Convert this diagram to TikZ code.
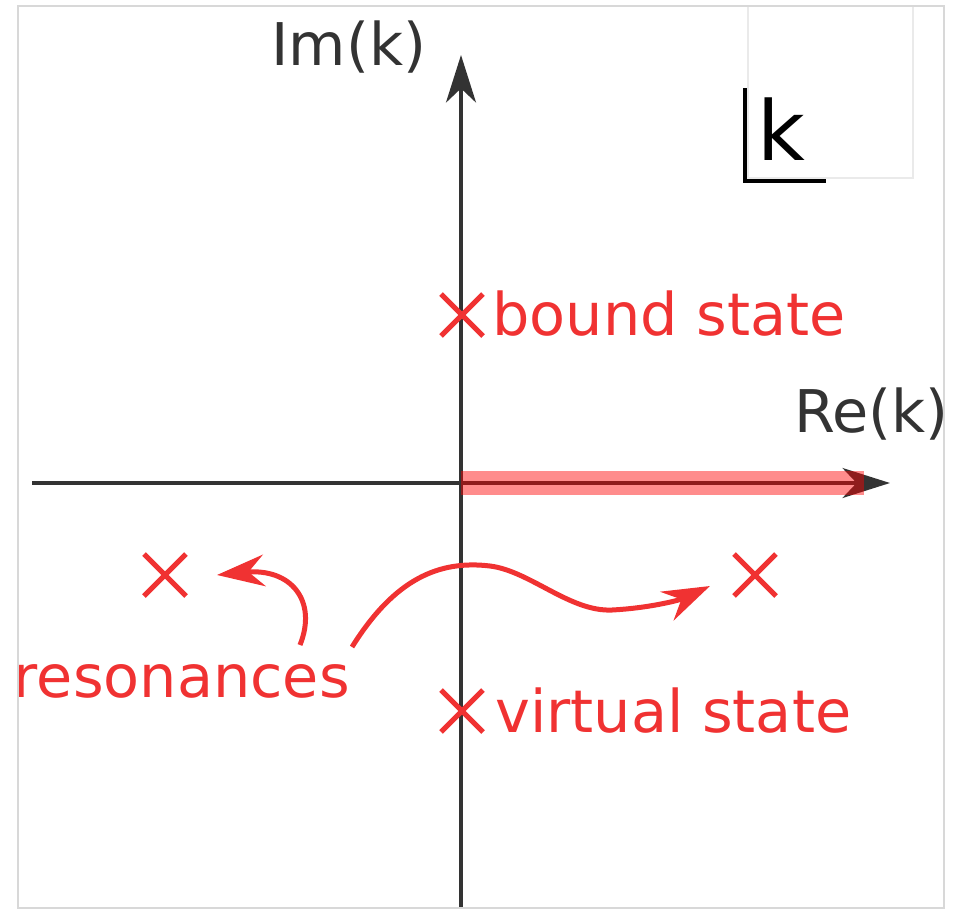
\documentclass[tikz,border=0pt]{standalone}
\usepackage{fontspec}
\setmainfont{DejaVu Sans}
\usetikzlibrary{arrows.meta,shapes.misc}
\definecolor{polered}{RGB}{240,50,50}
\definecolor{axisgrey}{RGB}{51,51,51}
\definecolor{framegrey}{RGB}{216,216,216}
\definecolor{boxgrey}{RGB}{234,234,234}
\begin{document}
\begin{tikzpicture}[x=0.02cm,y=-0.02cm,
  axis/.style={draw=axisgrey,line width=0.09cm,-{Stealth[length=27pt,width=17pt,inset=8pt]}},
  cut/.style={draw=red,opacity=0.45,line width=0.48cm},
  pole/.style={cross out,draw=polered,line width=0.1cm,minimum size=0.74cm,inner sep=0pt},
  lbl/.style={text=polered,font=\fontsize{33.5}{40}\selectfont,inner sep=0pt},
  axlbl/.style={text=axisgrey,font=\fontsize{33.5}{40}\selectfont,inner sep=0pt},
  pointer/.style={draw=polered,line width=0.1cm,-{Stealth[length=27pt,width=18pt,inset=9pt]}}]
  \useasboundingbox (0,0) rectangle (960,910);
  \begin{scope}
    \clip (18,6) rectangle (944,908);
    % plane box in the corner
    \draw[boxgrey,line width=0.04cm] (748,6) rectangle (913,178);
    \coordinate (kt) at (745,88);
    \coordinate (kc) at (745,181);
    \coordinate (kr) at (826,181);
    \draw[black,line width=0.07cm] (kt) -- (kc) -- (kr);
    \node[font=\fontsize{47}{54}\selectfont,inner sep=0pt,anchor=base west] (kname) at (757,160) {k};
    % axes
    \coordinate (o) at (461,483);
    \coordinate (xl) at (32,483);
    \coordinate (xr) at (890,483);
    \coordinate (yb) at (461,910);
    \coordinate (yt) at (461,55);
    \draw[axis] (xl) -- (xr);
    \draw[axis] (yb) -- (yt);
    \coordinate (cutend) at (864,483);
    \draw[cut] (o) -- (cutend);
    \node[axlbl,anchor=base west] (imk) at (271,65) {Im(k)};
    \node[axlbl,anchor=base west] (rek) at (794,432) {Re(k)};
    % poles
    \node[pole] (bound) at (462,315) {};
    \node[pole] (virtual) at (462,711) {};
    \node[pole] (resl) at (165,575) {};
    \node[pole] (resr) at (755,575) {};
    \node[lbl,anchor=base west] (boundlbl) at (492,335) {bound state};
    \node[lbl,anchor=base west] (virtuallbl) at (495,732) {virtual state};
    \node[lbl,anchor=base east] (reslbl) at (350,697) {resonances};
    % pointers to the resonances
    \coordinate (pl) at (300,645);
    \coordinate (pr) at (352,647);
    \coordinate (tl) at (217,575);
    \coordinate (tr) at (710,586);
    \draw[pointer] (pl) .. controls (318,600) and (290,568) .. (tl);
    \draw[pointer] (pr) .. controls (395,578) and (440,560) .. (490,566)
      .. controls (530,571) and (570,612) .. (612,610)
      .. controls (650,608) and (680,600) .. (tr);
  \end{scope}
  % frame
  \draw[framegrey,line width=0.04cm] (18,6) rectangle (944,908);
\end{tikzpicture}
\end{document}
